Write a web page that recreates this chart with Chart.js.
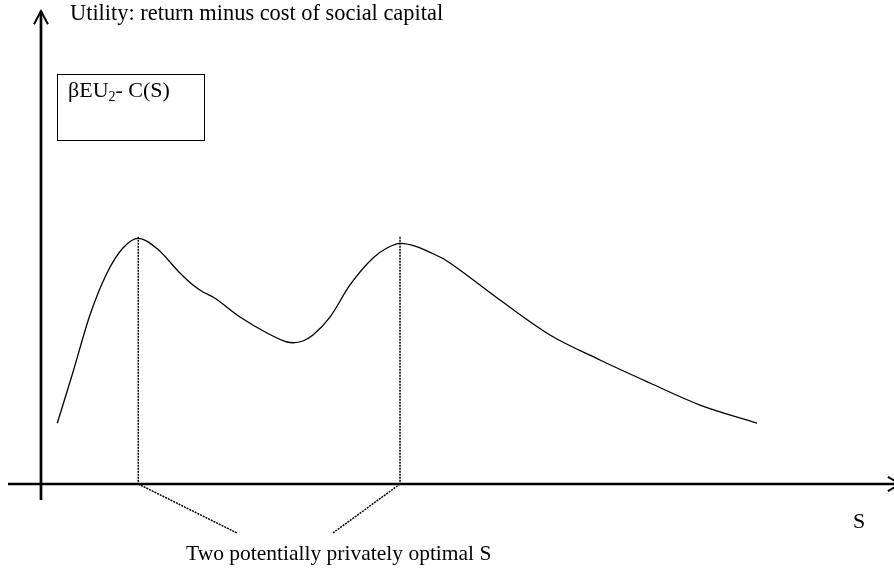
<!DOCTYPE html>
<html><head><meta charset="utf-8">
<script src="https://cdn.jsdelivr.net/npm/chart.js@4/dist/chart.umd.min.js"></script>
<style>html,body{margin:0;padding:0;background:#fff;}canvas{display:block;}</style>
</head><body>
<canvas id="c" width="894" height="569"></canvas>
<script>
// Social capital S (x) and utility βEU2 - C(S) (y), in abstract units
const curveS = [0.191, 0.376, 0.575, 0.775, 0.962, 1.142, 1.358, 1.631, 1.784, 1.901, 2.019, 2.336, 2.653, 2.887, 2.961, 3.075, 3.192, 3.392, 3.627, 3.897, 4.061, 4.214, 4.683, 4.80, 5.387, 5.974, 6.561, 7.148, 7.735, 8.404];
const curveU = [1.254, 2.314, 3.492, 4.36, 4.876, 5.076, 4.87, 4.36, 4.11, 3.967, 3.864, 3.45, 3.12, 2.934, 2.919, 2.955, 3.079, 3.45, 4.112, 4.669, 4.876, 4.973, 4.69, 4.566, 3.80, 3.079, 2.562, 2.087, 1.632, 1.26];
const optimaS = [1.142, 4.214];
const dropTopU = 5.11;
const labelPointS = [2.30, 3.427];
const labelPointU = -1.012;
const xAxisS = [-0.387, 10.09];
const yAxisU = [-0.33, 9.77];

const pts = (xs, ys) => xs.map((x, i) => ({x, y: ys[i]}));
const base = {pointRadius: 0, borderColor: '#000', clip: false, fill: false, tension: 0};

const datasets = [
  Object.assign({}, base, {data: pts(curveS, curveU), borderWidth: 1.3, cubicInterpolationMode: 'monotone'}),
];
optimaS.forEach((s, i) => {
  datasets.push(Object.assign({}, base, {data: [{x: s, y: dropTopU}, {x: s, y: 0}], borderWidth: 1.5, borderDash: [2, 1]}));
  datasets.push(Object.assign({}, base, {data: [{x: s, y: 0}, {x: labelPointS[i], y: labelPointU}], borderWidth: 1.5, borderDash: [2, 1]}));
});
// axes
datasets.push(Object.assign({}, base, {data: [{x: xAxisS[0], y: 0}, {x: xAxisS[1], y: 0}], borderWidth: 2.7}));
datasets.push(Object.assign({}, base, {data: [{x: 0, y: yAxisU[0]}, {x: 0, y: yAxisU[1]}], borderWidth: 2.7}));
// arrowheads
datasets.push(Object.assign({}, base, {data: [{x: -0.082, y: 9.50}, {x: 0, y: 9.77}, {x: 0.082, y: 9.50}], borderWidth: 2}));
datasets.push(Object.assign({}, base, {data: [{x: 9.94, y: 0.145}, {x: 10.09, y: 0}, {x: 9.94, y: -0.145}], borderWidth: 2}));

const serif = '"Liberation Serif", "Times New Roman", serif';
const textPlugin = {
  id: 'texts',
  afterDraw(chart) {
    const ctx = chart.ctx;
    ctx.save();
    ctx.fillStyle = '#000';
    ctx.textBaseline = 'alphabetic';
    ctx.font = '22.4px ' + serif;
    ctx.fillText('Utility: return minus cost of social capital', 70, 20);
    ctx.font = '21.5px ' + serif;
    ctx.fillText('Two potentially privately optimal S', 186, 560);
    ctx.font = '22px ' + serif;
    ctx.fillText('S', 853, 528);
    // legend box
    ctx.strokeStyle = '#000';
    ctx.lineWidth = 1;
    ctx.strokeRect(57.5, 74.5, 147, 66);
    let x = 68;
    const t1 = '\u03B2EU';
    ctx.font = '22px ' + serif;
    ctx.fillText(t1, x, 97);
    x += ctx.measureText(t1).width;
    ctx.font = '14px ' + serif;
    ctx.fillText('2', x, 101);
    x += ctx.measureText('2').width;
    ctx.font = '22px ' + serif;
    ctx.fillText('- C(S)', x, 97);
    ctx.restore();
  }
};

new Chart(document.getElementById('c'), {
  type: 'line',
  data: {datasets},
  options: {
    responsive: false,
    animation: false,
    events: [],
    layout: {padding: 0},
    plugins: {legend: {display: false}, tooltip: {enabled: false}, title: {display: false}},
    scales: {
      x: {type: 'linear', min: -0.481, max: 10.012, display: false},
      y: {type: 'linear', min: -1.756, max: 10, display: false}
    }
  },
  plugins: [textPlugin]
});
</script>
</body></html>
